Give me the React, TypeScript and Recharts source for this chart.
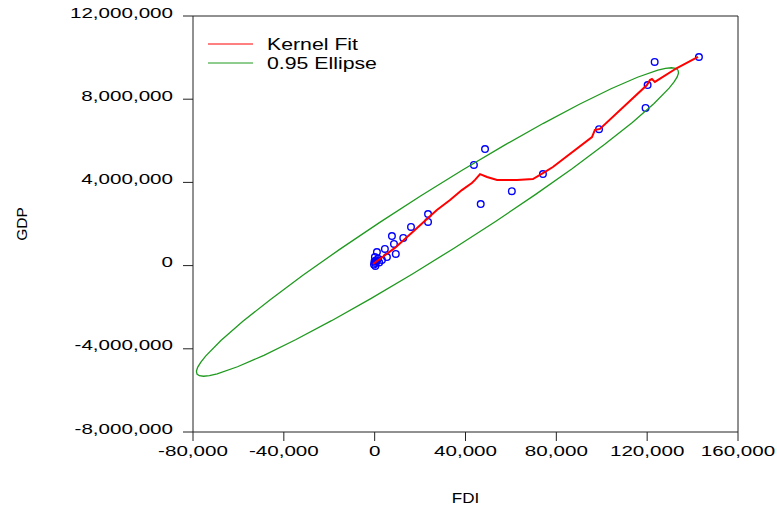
import React from 'react';
import { ScatterChart, Scatter, XAxis, YAxis, ReferenceLine } from 'recharts';

// Observed data points (FDI, GDP)
const pointFDI = [142800, 123300, 120200, 119300, 98800, 74100, 60400, 48600, 43700, 46700, 23500, 23500, 16000, 12600, 7600, 8500, 4500, 9300, 1000, 5400, 3200, 100, 500, 200, -300, 800, 1500, 300, -100, 2000];
const pointGDP = [10030000, 9790000, 8680000, 7580000, 6560000, 4400000, 3580000, 5600000, 4840000, 2960000, 2480000, 2100000, 1860000, 1330000, 1420000, 1040000, 800000, 560000, 650000, 410000, 270000, 410000, 250000, 120000, 50000, 180000, 330000, -20000, 200000, 150000];

// Kernel fit curve
const kernelFDI = [-700, 8900, 17700, 23500, 27400, 33200, 38400, 42800, 44200, 46400, 49500, 53900, 62700, 69700, 74100, 78500, 82500, 95700, 97000, 99200, 119900, 121200, 122100, 123400, 133100, 142400];
const kernelGDP = [80000, 850000, 1710000, 2290000, 2670000, 3150000, 3630000, 3970000, 4120000, 4400000, 4260000, 4120000, 4120000, 4160000, 4450000, 4740000, 5080000, 6180000, 6520000, 6570000, 8680000, 8920000, 8970000, 8830000, 9500000, 10030000];

// 0.95 ellipse outline
const ellipseFDI = [133570, 133810, 133230, 131850, 129670, 123030, 113480, 101320, 86930, 70730, 53230, 34950, 16450, -1710, -18990, -34840, -48780, -60410, -69370, -72750, -75370, -77210, -78250, -78490, -77910, -76530, -74350, -67710, -58160, -46000, -31610, -15410, 2090, 20370, 38870, 57030, 74310, 90160, 104100, 115730, 124690, 128070, 130690, 132530, 133570];
const ellipseGDP = [9404000, 9266000, 9074000, 8829000, 8532000, 7795000, 6884000, 5829000, 4659000, 3411000, 2124000, 836000, -414000, -1587000, -2649000, -3567000, -4312000, -4863000, -5202000, -5289000, -5320000, -5294000, -5212000, -5074000, -4882000, -4637000, -4340000, -3603000, -2692000, -1637000, -467000, 781000, 2068000, 3356000, 4606000, 5779000, 6841000, 7759000, 8504000, 9055000, 9394000, 9481000, 9512000, 9486000, 9404000];

const xTicks = [-80000, -40000, 0, 40000, 80000, 120000, 160000];
const yTicks = [-8000000, -4000000, 0, 4000000, 8000000, 12000000];

const seriesNames = ['Kernel Fit', '0.95 Ellipse'];
const seriesColors = ['#ff0000', '#1f9a1f'];

const points = pointFDI.map((x, i) => ({ x, y: pointGDP[i] }));
const kernel = kernelFDI.map((x, i) => ({ x, y: kernelGDP[i] }));
const ellipse = ellipseFDI.map((x, i) => ({ x, y: ellipseGDP[i] }));

const FONT = '"Liberation Sans", Arial, Helvetica, sans-serif';
const SX = 1.33;
const fmt = (v: number) => v.toLocaleString('en-US');

const XTick = (props: any) => {
  const { x, y, payload } = props;
  return (
    <text transform={`translate(${x},${y + 13}) scale(${SX},1)`} textAnchor="middle" fontSize={15.5} fontFamily={FONT} fill="#000">
      {fmt(payload.value)}
    </text>
  );
};

const YTick = (props: any) => {
  const { x, y, payload } = props;
  return (
    <text transform={`translate(${x},${y + 1.5}) scale(${SX},1)`} textAnchor="end" fontSize={15.5} fontFamily={FONT} fill="#000">
      {fmt(payload.value)}
    </text>
  );
};

const Dot = (props: any) => {
  const { cx, cy } = props;
  if (cx == null || cy == null) return <g />;
  return <circle cx={cx} cy={cy} r={3.3} fill="none" stroke="#0000ff" strokeWidth={1.4} />;
};

const NoShape = () => <g />;

const LegendBox = () => (
  <svg width={200} height={60} style={{ position: 'absolute', left: 200, top: 22 }}>
    {seriesNames.map((n, i) => (
      <g key={n}>
        <line x1={8} x2={53} y1={22 + i * 19} y2={22 + i * 19} stroke={seriesColors[i]} strokeWidth={1} />
        <text transform={`translate(67,${27.5 + i * 19}) scale(${SX},1)`} fontSize={16} fontFamily={FONT} fill="#000">
          {n}
        </text>
      </g>
    ))}
  </svg>
);

export default function App() {
  return (
    <div style={{ position: 'absolute', left: 0, top: 0, width: 777, height: 511, background: '#fff' }}>
      <ScatterChart width={777} height={511} margin={{ top: 16, right: 39, bottom: 0, left: 0 }}>
        <XAxis
          type="number"
          dataKey="x"
          domain={[-80000, 160000]}
          ticks={xTicks}
          tick={<XTick />}
          tickSize={9}
          tickMargin={2}
          height={79}
          axisLine={{ stroke: '#222' }}
          tickLine={{ stroke: '#222' }}
          interval={0}
          label={{
            content: (p: any) => {
              const vb = p.viewBox || { x: 193, y: 432, width: 545 };
              return (
                <text transform={`translate(${vb.x + vb.width / 2},${vb.y + 71}) scale(1.1,1)`} textAnchor="middle" fontSize={15.5} fontFamily={FONT} fill="#000">
                  FDI
                </text>
              );
            },
          }}
        />
        <YAxis
          type="number"
          dataKey="y"
          domain={[-8000000, 12000000]}
          ticks={yTicks}
          tick={<YTick />}
          tickSize={10}
          tickMargin={10}
          width={193}
          axisLine={{ stroke: '#222' }}
          tickLine={{ stroke: '#222' }}
          interval={0}
          label={{
            content: (p: any) => {
              const vb = p.viewBox || { x: 0, y: 16, width: 193, height: 416 };
              return (
                <text transform={`translate(${vb.x + 27},${vb.y + vb.height / 2}) rotate(-90)`} textAnchor="middle" fontSize={15.5} fontFamily={FONT} fill="#000">
                  GDP
                </text>
              );
            },
          }}
        />
        <ReferenceLine y={12000000} stroke="#222" strokeWidth={1} />
        <ReferenceLine x={160000} stroke="#222" strokeWidth={1} />
        <Scatter name="Points" data={points} shape={<Dot />} isAnimationActive={false} />
        <Scatter name={seriesNames[1]} data={ellipse} shape={<NoShape />} line={{ stroke: seriesColors[1], strokeWidth: 1.3 }} lineType="joint" isAnimationActive={false} />
        <Scatter name={seriesNames[0]} data={kernel} shape={<NoShape />} line={{ stroke: seriesColors[0], strokeWidth: 2 }} lineType="joint" isAnimationActive={false} />
      </ScatterChart>
      <LegendBox />
    </div>
  );
}
